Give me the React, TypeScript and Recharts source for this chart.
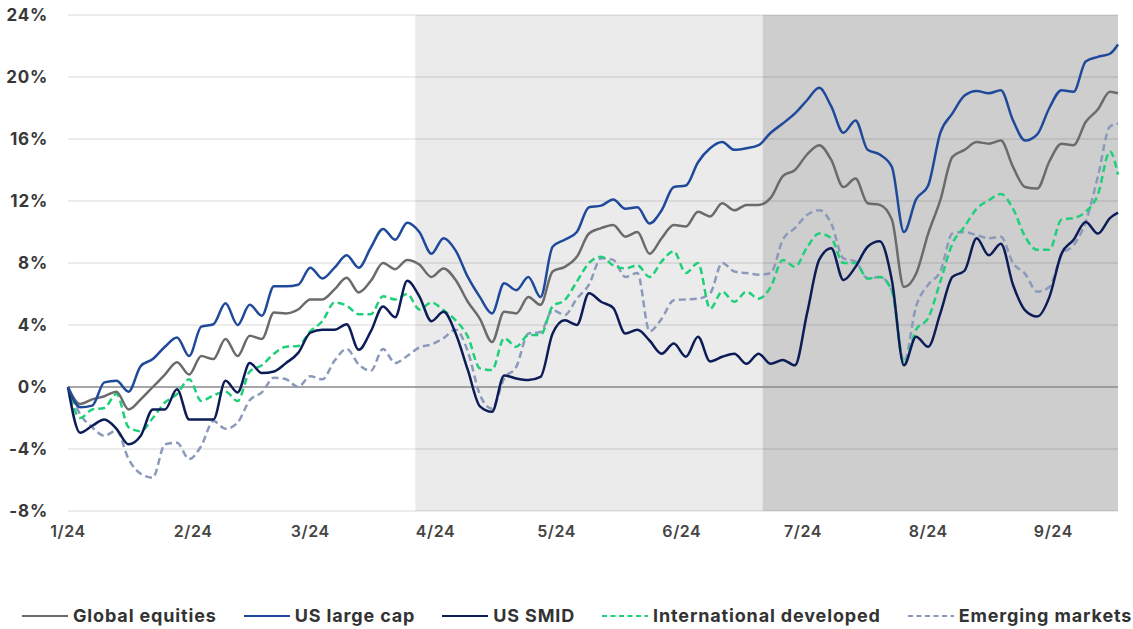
import React from 'react';
import { LineChart, Line, XAxis, YAxis, ReferenceArea, ReferenceLine, Legend } from 'recharts';

const FONT = 'Inter, "Open Sans", "DejaVu Sans", sans-serif';

// Day offsets from Jan 1, 2024
const days = [
  0, 3, 6, 9, 12, 15, 18, 21, 24, 27, 30, 33, 36, 39, 42, 45, 48, 51, 54, 57,
  60, 63, 66, 69, 72, 75, 78, 81, 84, 87, 90, 93, 96, 99, 102, 105, 108, 111, 114, 117,
  120, 123, 126, 129, 132, 135, 138, 141, 144, 147, 150, 153, 156, 159, 162, 165, 168, 171, 174, 177,
  180, 183, 186, 189, 192, 195, 198, 201, 204, 207, 210, 213, 216, 219, 222, 225, 228, 231, 234, 237,
  240, 243, 246, 249, 252, 255, 258, 260,
];

const monthTickDays = [0, 31, 60, 91, 121, 152, 182, 213, 244];
const monthTickLabels = ['1/24', '2/24', '3/24', '4/24', '5/24', '6/24', '7/24', '8/24', '9/24'];
const yTicks = [-8, -4, 0, 4, 8, 12, 16, 20, 24];
const firstDay = 0;
const lastDay = 260;
const phase2Start = 86;
const phase3Start = 172;

const globalEquities = [
  0, -1.1, -0.8, -0.6, -0.3, -1.45, -0.8, 0, 0.8, 1.6,
  0.8, 2.0, 1.8, 3.1, 2.0, 3.3, 3.1, 4.8, 4.75, 5.0,
  5.65, 5.65, 6.3, 7.05, 6.1, 6.85, 8.0, 7.6, 8.2, 7.9,
  7.1, 7.65, 6.9, 5.5, 4.4, 2.9, 4.85, 4.75, 5.8, 5.3,
  7.45, 7.75, 8.4, 9.9, 10.25, 10.45, 9.7, 10.0, 8.6, 9.6,
  10.45, 10.35, 11.3, 11.0, 11.85, 11.4, 11.75, 11.75, 12.2, 13.6,
  14.0, 15.0, 15.6, 14.65, 12.9, 13.45, 11.85, 11.75, 10.8, 6.45,
  7.3, 9.9, 12.05, 14.85, 15.3, 15.8, 15.7, 15.9, 14.2, 12.9,
  12.8, 14.55, 15.7, 15.6, 17.1, 17.9, 19.05, 18.95,
];

const usLargeCap = [
  0, -1.3, -1.2, 0.3, 0.4, -0.3, 1.35, 1.8, 2.6, 3.2,
  2.0, 3.9, 4.05, 5.4, 4.0, 5.3, 4.6, 6.5, 6.5, 6.6,
  7.7, 7.0, 7.7, 8.5, 7.7, 9.0, 10.2, 9.5, 10.6, 10.0,
  8.6, 9.6, 8.8, 7.1, 5.8, 4.75, 6.7, 6.25, 7.1, 5.8,
  9.05, 9.5, 10.0, 11.6, 11.7, 12.1, 11.5, 11.6, 10.55, 11.4,
  12.9, 13.0, 14.5, 15.4, 15.8, 15.3, 15.4, 15.6, 16.4, 17.0,
  17.65, 18.5, 19.3, 18.1, 16.4, 17.2, 15.3, 15.0, 14.2, 10.0,
  12.1, 13.0, 16.4, 17.65, 18.8, 19.1, 18.95, 19.15, 17.2, 15.9,
  16.3, 18.0, 19.15, 19.05, 21.0, 21.3, 21.5, 22.1,
];

const usSmid = [
  0, -2.95, -2.5, -2.1, -2.7, -3.7, -3.15, -1.45, -1.45, -0.15,
  -2.1, -2.1, -2.1, 0.4, -0.35, 1.55, 0.9, 1.0, 1.55, 2.2,
  3.5, 3.7, 3.7, 4.05, 2.4, 3.6, 5.2, 4.5, 6.85, 5.85,
  4.25, 4.85, 3.45, 1.1, -1.25, -1.6, 0.75, 0.55, 0.45, 0.65,
  3.45, 4.3, 4.0, 6.05, 5.5, 5.1, 3.45, 3.7, 3.0, 2.15,
  2.8, 1.95, 3.25, 1.65, 1.95, 2.15, 1.5, 2.15, 1.5, 1.75,
  1.4, 4.75, 8.2, 8.95, 6.9, 7.75, 9.05, 9.4, 6.9, 1.4,
  3.25, 2.6, 4.75, 7.1, 7.5, 9.6, 8.5, 9.25, 6.6, 4.95,
  4.55, 5.8, 8.6, 9.5, 10.65, 9.9, 10.9, 11.25,
];

const intlDeveloped = [
  0, -2.0, -1.45, -1.35, -0.45, -2.6, -2.85, -2.0, -1.0, -0.45,
  0.5, -0.9, -0.55, -0.3, -0.9, 1.0, 1.4, 2.15, 2.6, 2.65,
  3.6, 4.25, 5.45, 5.25, 4.7, 4.7, 5.85, 5.65, 6.0, 5.0,
  5.45, 4.95, 4.3, 3.25, 1.2, 1.1, 3.15, 2.6, 3.35, 3.35,
  5.2, 5.6, 6.8, 8.0, 8.4, 7.85, 7.65, 7.85, 7.1, 8.1,
  8.75, 7.35, 8.0, 5.05, 6.15, 5.5, 6.15, 5.7, 6.45, 8.2,
  7.75, 9.0, 9.9, 9.6, 8.0, 8.0, 7.0, 7.1, 6.2, 1.5,
  3.7, 4.45, 6.8, 9.25, 10.35, 11.5, 12.05, 12.45, 11.5, 9.7,
  8.85, 8.85, 10.8, 10.9, 11.3, 12.4, 15.2, 13.7,
];

const emergingMarkets = [
  0, -1.75, -2.6, -3.15, -2.8, -4.65, -5.6, -5.85, -3.7, -3.6,
  -4.65, -3.8, -2.2, -2.7, -2.3, -0.85, -0.35, 0.6, 0.5, 0,
  0.7, 0.5, 1.7, 2.45, 1.45, 1.05, 2.45, 1.55, 2.0, 2.55,
  2.75, 3.15, 3.7, 2.3, -0.5, -1.4, 0.55, 1.3, 3.45, 3.55,
  4.95, 4.65, 5.7, 6.6, 8.3, 8.2, 7.1, 7.35, 3.6, 4.4,
  5.6, 5.65, 5.7, 6.05, 8.0, 7.45, 7.35, 7.25, 7.35, 9.5,
  10.25, 11.1, 11.4, 10.55, 8.3, 8.1, 7.0, 7.1, 6.25, 1.65,
  5.2, 6.6, 7.45, 9.9, 10.0, 9.8, 9.6, 9.7, 8.0, 7.3,
  6.15, 6.45, 8.5, 9.15, 10.65, 13.55, 16.8, 17.0,
];

const seriesConfig = [
  { key: 'global', name: 'Global equities', values: globalEquities, color: '#6b6b6b', dashed: false },
  { key: 'large', name: 'US large cap', values: usLargeCap, color: '#1f4a9b', dashed: false },
  { key: 'smid', name: 'US SMID', values: usSmid, color: '#0c1c57', dashed: false },
  { key: 'intl', name: 'International developed', values: intlDeveloped, color: '#1fd07a', dashed: true },
  { key: 'em', name: 'Emerging markets', values: emergingMarkets, color: '#8b9aba', dashed: true },
];

const drawOrder = ['em', 'intl', 'global', 'smid', 'large'];

const data = days.map((d, i) => {
  const row: Record<string, number> = { day: d };
  seriesConfig.forEach((s) => {
    row[s.key] = s.values[i];
  });
  return row;
});

const renderLegend = () => (
  <div
    style={{
      display: 'flex',
      alignItems: 'center',
      height: 68,
      boxSizing: 'border-box',
      paddingTop: 41,
      paddingLeft: 22,
      fontFamily: FONT,
      fontWeight: 700,
      fontSize: 18,
      letterSpacing: 0.85,
      color: '#333333',
      whiteSpace: 'nowrap',
    }}
  >
    {seriesConfig.map((s, i) => (
      <div
        key={s.key}
        style={{ display: 'flex', alignItems: 'center', marginRight: i < seriesConfig.length - 1 ? 27 : 0 }}
      >
        <svg width={46} height={4} style={{ display: 'block' }}>
          <line
            x1={0}
            y1={2}
            x2={46}
            y2={2}
            stroke={s.color}
            strokeWidth={2}
            strokeDasharray={s.dashed ? '5 3.5' : undefined}
          />
        </svg>
        <span style={{ marginLeft: 5 }}>{s.name}</span>
      </div>
    ))}
  </div>
);

export default function App() {
  const yTickStyle = { fontFamily: FONT, fontSize: 17, fontWeight: 700, fill: '#383838', letterSpacing: 0.8 };
  const xTickStyle = { fontFamily: FONT, fontSize: 16, fontWeight: 600, fill: '#444444', letterSpacing: 0.6 };
  return (
    <div style={{ position: 'absolute', left: 0, top: 0, width: 1133, height: 629, background: '#ffffff' }}>
      <LineChart width={1133} height={629} data={data} margin={{ top: 15, right: 15, left: 0, bottom: 0 }}>
        <XAxis
          dataKey="day"
          type="number"
          domain={[firstDay, lastDay]}
          ticks={monthTickDays}
          tickFormatter={(v: number) => monthTickLabels[monthTickDays.indexOf(v)] ?? ''}
          axisLine={false}
          tickLine={false}
          tickSize={0}
          tickMargin={15}
          height={50}
          tick={xTickStyle}
          interval={0}
        />
        <YAxis
          type="number"
          domain={[-8, 24]}
          ticks={yTicks}
          tickFormatter={(v: number) => `${v}%`}
          axisLine={false}
          tickLine={false}
          tickSize={0}
          tickMargin={20}
          width={68}
          tick={yTickStyle}
          interval={0}
        />
        <ReferenceArea x1={phase2Start} x2={phase3Start} y1={-8} y2={24} fill="#ebebeb" fillOpacity={1} stroke="none" />
        <ReferenceArea x1={phase3Start} x2={lastDay} y1={-8} y2={24} fill="#cecece" fillOpacity={1} stroke="none" />
        {yTicks
          .filter((t) => t !== 0)
          .map((t) => (
            <ReferenceLine key={t} y={t} stroke="rgba(0,0,0,0.075)" strokeWidth={2} />
          ))}
        <ReferenceLine y={0} stroke="#8a8a8a" strokeWidth={1.6} />
        {drawOrder.map((k) => {
          const s = seriesConfig.find((c) => c.key === k)!;
          return (
            <Line
              key={s.key}
              type="monotone"
              dataKey={s.key}
              name={s.name}
              stroke={s.color}
              strokeWidth={2.5}
              strokeDasharray={s.dashed ? '7 4' : undefined}
              dot={false}
              activeDot={false}
              isAnimationActive={false}
            />
          );
        })}
        <Legend verticalAlign="bottom" align="left" height={68} content={renderLegend} wrapperStyle={{ left: 0, bottom: 0, width: 1133 }} />
      </LineChart>
    </div>
  );
}
